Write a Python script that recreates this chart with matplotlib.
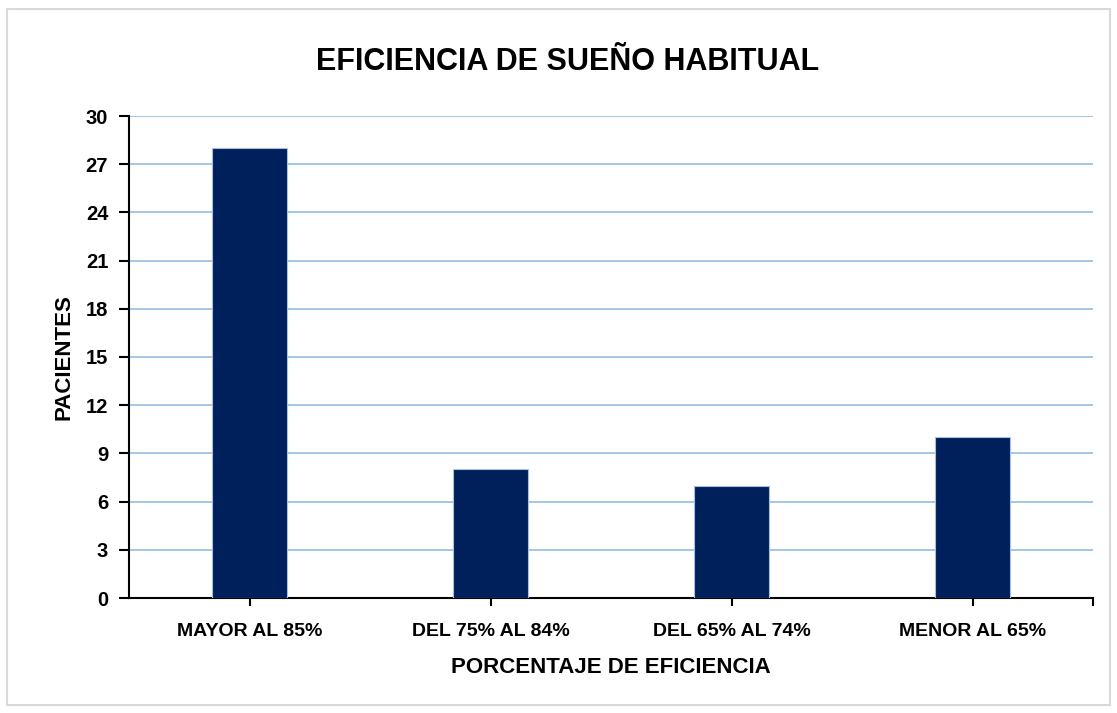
import matplotlib
matplotlib.use("Agg")
import matplotlib.pyplot as plt
from matplotlib.patches import Rectangle

categories = ["MAYOR AL 85%", "DEL 75% AL 84%", "DEL 65% AL 74%", "MENOR AL 65%"]
values = [28, 8, 7, 10]
yticks = [0, 3, 6, 9, 12, 15, 18, 21, 24, 27, 30]

plt.rcParams['font.family'] = ['Liberation Sans', 'DejaVu Sans']

fig = plt.figure(figsize=(11.17, 7.13), dpi=100)
ax = fig.add_axes([129/1117, 1 - 598/713, (1093-129)/1117, (598-116)/713])

x = list(range(len(categories)))
ax.bar(x, values, width=0.31, color="#00205C", edgecolor="#A9BFE0", linewidth=0.8, zorder=3)
ax.set_xlim(-0.5, len(categories) - 0.5)
ax.set_ylim(0, 30)
ax.set_yticks(yticks)
ax.set_yticklabels([str(t) for t in yticks], fontsize=14.5, fontweight='bold')
ax.set_xticks(x)
ax.set_xticklabels(categories, fontsize=14, fontweight='bold')
ax.set_xticks([len(categories) - 0.5], minor=True)
ax.yaxis.grid(True, color="#9DC3E6", linewidth=1.3, zorder=0)
ax.set_axisbelow(True)
for s in ["top", "right"]:
    ax.spines[s].set_visible(False)
for s in ["left", "bottom"]:
    ax.spines[s].set_linewidth(1.5)
    ax.spines[s].set_color("black")
ax.tick_params(axis='y', length=7, width=1.5, pad=8)
ax.tick_params(axis='x', which='both', length=6, width=1.5, pad=12)
ax.set_ylabel("PACIENTES", fontsize=16, fontweight='bold', labelpad=8)
ax.set_xlabel("PORCENTAJE DE EFICIENCIA", fontsize=16, fontweight='bold', labelpad=12)
fig.text(568/1117, 1 - 70/713, "EFICIENCIA DE SUEÑO HABITUAL", fontsize=22, fontweight='bold',
         ha='center', va='baseline')

fig.patches.append(Rectangle((7/1117, 1 - 705/713), (1110-7)/1117, (705-9)/713, transform=fig.transFigure,
                             fill=False, edgecolor="#D9D9D9", linewidth=1.5))

fig.savefig("out.png", dpi=100)
